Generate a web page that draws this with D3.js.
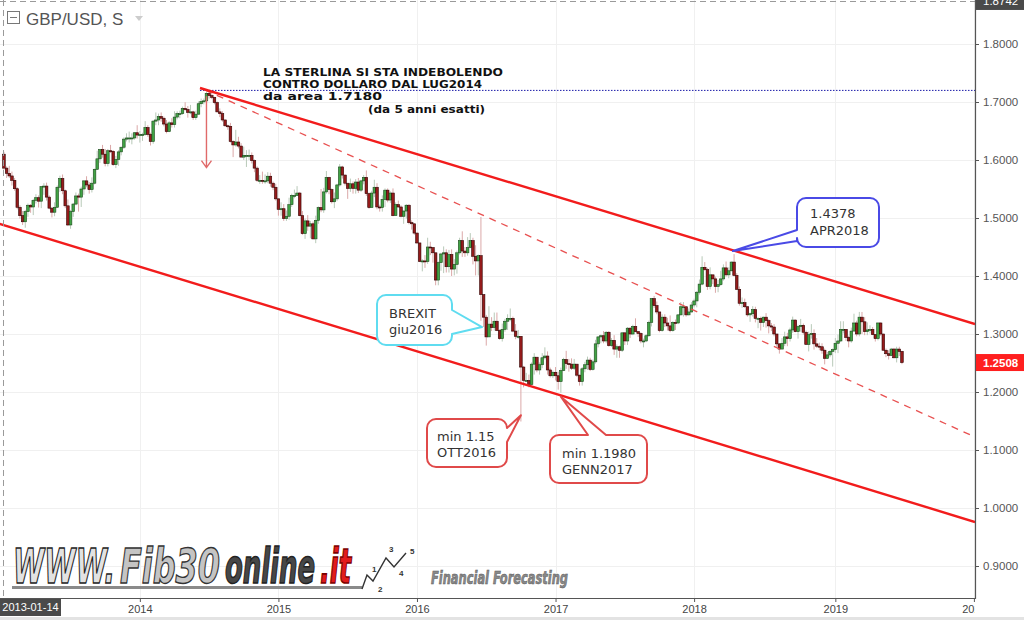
<!DOCTYPE html>
<html><head><meta charset="utf-8">
<script src="https://cdn.jsdelivr.net/npm/d3@7"></script>
<style>html,body{margin:0;padding:0;background:#fff;overflow:hidden}</style>
</head><body><svg id="c" width="1024" height="620"></svg>
<script>
// ---------------- DATA ----------------
const symbolTitle = "GBP/USD, S";
const firstWeek = "2013-01-14";
const lastWeek = "2019-07-01";
const firstOpen = 1.6100;
const closes = [
// 2013
1.5860,1.5770,1.5725,1.5650,1.5505,1.5185,1.5040,1.4935,1.5110,1.5220,
1.5190,1.5305,1.5350,1.5290,1.5540,1.5550,1.5360,1.5170,1.5100,1.5185,
1.5530,1.5680,1.5470,1.5210,1.4880,1.5110,1.5240,1.5380,1.5360,1.5500,
1.5640,1.5570,1.5490,1.5600,1.5840,1.6020,1.6180,1.6100,1.5940,1.6160,
1.6150,1.5920,1.6010,1.6140,1.6220,1.6360,1.6380,1.6380,1.6380,1.6470,
1.6430,
// 2014
1.6440,1.6440,1.6560,1.6440,1.6320,1.6670,1.6690,1.6750,1.6720,1.6620,
1.6490,1.6640,1.6610,1.6740,1.6800,1.6800,1.6890,1.6870,1.6820,1.6830,
1.6730,1.6790,1.6970,1.7010,1.7020,1.7150,1.7110,1.7080,1.6990,1.6830,
1.6800,1.6690,1.6590,1.6580,1.6320,1.6260,1.6310,1.6240,1.6050,1.6080,
1.6080,1.6080,1.5990,1.5860,1.5650,1.5650,1.5640,1.5640,1.5720,1.5600,
1.5530,1.5330,
// 2015
1.5150,1.5160,1.4990,1.5030,1.5230,1.5390,1.5390,1.5430,1.5040,1.4730,
1.4950,1.4860,1.4900,1.4640,1.4960,1.5180,1.5140,1.5450,1.5700,1.5490,
1.5280,1.5330,1.5570,1.5880,1.5740,1.5600,1.5510,1.5590,1.5510,1.5620,
1.5480,1.5640,1.5700,1.5420,1.5180,1.5430,1.5530,1.5190,1.5180,1.5320,
1.5480,1.5310,1.5430,1.5040,1.5230,1.5190,1.5030,1.5120,1.5220,1.4920,
1.4900,1.4740,
// 2016
1.4570,1.4250,1.4260,1.4250,1.4500,1.4490,1.4400,1.3930,1.4230,1.4380,
1.4400,1.4160,1.4370,1.4120,1.4200,1.4400,1.4610,1.4430,1.4400,1.4490,
1.4610,1.4340,1.4260,1.4350,1.3680,1.3290,1.2950,1.3170,1.3110,1.3220,
1.3060,1.2920,1.3080,1.3220,1.3270,1.3270,1.3050,1.2960,1.2960,1.2430,
1.2200,1.2200,1.2130,1.2480,1.2600,1.2380,1.2470,1.2590,1.2620,1.2380,
1.2280,1.2340,
// 2017
1.2280,1.2180,1.2370,1.2560,1.2490,1.2480,1.2410,1.2480,1.2290,1.2180,
1.2400,1.2470,1.2550,1.2390,1.2520,1.2830,1.2950,1.2970,1.2880,1.3030,
1.2800,1.2890,1.2740,1.2780,1.2720,1.3020,1.2880,1.3100,1.3000,1.3130,
1.3040,1.3010,1.2880,1.2880,1.2970,1.3200,1.3610,1.3490,1.3380,1.3060,
1.3290,1.3190,1.3140,1.3060,1.3200,1.3190,1.3330,1.3470,1.3470,1.3330,
1.3380,1.3500,
// 2018
1.3570,1.3720,1.3860,1.4150,1.4110,1.3820,1.4020,1.3950,1.3820,1.3850,
1.3950,1.4140,1.4020,1.4090,1.4240,1.4010,1.3770,1.3530,1.3540,1.3470,
1.3330,1.3350,1.3420,1.3270,1.3270,1.3200,1.3290,1.3230,1.3140,1.3120,
1.3000,1.2830,1.2740,1.2840,1.2950,1.2920,1.3070,1.3240,1.3040,1.3130,
1.3150,1.3030,1.2820,1.2990,1.3010,1.2830,1.2790,1.2780,1.2720,1.2580,
1.2640,1.2700,1.2730,
// 2019
1.2840,1.2880,1.3080,1.3080,1.2940,1.2880,1.3050,1.3190,1.3000,1.3290,
1.3210,1.3040,1.3070,1.3080,1.2990,1.2920,1.3190,1.3000,1.2720,1.2660,
1.2630,1.2740,1.2590,1.2740,1.2700,1.2508
];
const highs = [
// 2013
1.6140,1.5890,1.5900,1.5800,1.5690,1.5530,1.5220,1.5120,1.5140,1.5250,
1.5240,1.5330,1.5410,1.5390,1.5550,1.5600,1.5610,1.5390,1.5190,1.5270,
1.5560,1.5730,1.5750,1.5490,1.5320,1.5140,1.5260,1.5440,1.5420,1.5540,
1.5650,1.5720,1.5620,1.5700,1.5850,1.6160,1.6190,1.6260,1.6190,1.6190,
1.6260,1.6170,1.6070,1.6170,1.6230,1.6390,1.6460,1.6490,1.6460,1.6480,
1.6600,
// 2014
1.6500,1.6470,1.6670,1.6600,1.6470,1.6690,1.6820,1.6800,1.6820,1.6750,
1.6690,1.6670,1.6720,1.6840,1.6840,1.6850,1.6920,1.6996,1.6930,1.6950,
1.6850,1.6850,1.7010,1.7060,1.7060,1.7180,1.7170,1.7192,1.7090,1.7010,
1.6890,1.6840,1.6700,1.6610,1.6640,1.6340,1.6520,1.6400,1.6290,1.6230,
1.6170,1.6180,1.6130,1.6010,1.5890,1.5740,1.5800,1.5750,1.5790,1.5780,
1.5630,1.5590,
// 2015
1.5340,1.5270,1.5240,1.5130,1.5350,1.5420,1.5490,1.5550,1.5450,1.5120,
1.4990,1.5050,1.4950,1.4940,1.5040,1.5200,1.5500,1.5520,1.5810,1.5710,
1.5510,1.5440,1.5590,1.5930,1.5900,1.5750,1.5590,1.5680,1.5630,1.5670,
1.5690,1.5660,1.5740,1.5820,1.5440,1.5470,1.5660,1.5600,1.5230,1.5390,
1.5510,1.5510,1.5460,1.5510,1.5270,1.5300,1.5220,1.5130,1.5240,1.5240,
1.4960,1.4900,
// 2016
1.4750,1.4570,1.4290,1.4360,1.4660,1.4590,1.4500,1.4400,1.4250,1.4400,
1.4510,1.4460,1.4450,1.4460,1.4290,1.4440,1.4660,1.4770,1.4500,1.4670,
1.4740,1.4660,1.4530,1.4370,1.5018,1.3540,1.3330,1.3480,1.3290,1.3370,
1.3370,1.3080,1.3180,1.3260,1.3340,1.3440,1.3300,1.3170,1.3070,1.2960,
1.2450,1.2330,1.2300,1.2510,1.2670,1.2560,1.2510,1.2670,1.2770,1.2700,
1.2420,1.2370,
// 2017
1.2430,1.2350,1.2420,1.2590,1.2710,1.2570,1.2580,1.2570,1.2480,1.2300,
1.2430,1.2520,1.2610,1.2590,1.2560,1.2900,1.2960,1.2990,1.3050,1.3050,
1.3050,1.2930,1.2980,1.2820,1.2800,1.3030,1.3030,1.3120,1.3120,1.3160,
1.3270,1.3050,1.3030,1.2920,1.3000,1.3230,1.3620,1.3657,1.3560,1.3380,
1.3340,1.3340,1.3280,1.3320,1.3220,1.3250,1.3340,1.3550,1.3550,1.3460,
1.3440,1.3550,
// 2018
1.3610,1.3740,1.3940,1.4340,1.4240,1.4140,1.4150,1.4020,1.3990,1.3930,
1.4090,1.4200,1.4250,1.4150,1.4250,1.4377,1.4050,1.3820,1.3630,1.3610,
1.3480,1.3370,1.3480,1.3470,1.3290,1.3300,1.3300,1.3360,1.3260,1.3190,
1.3170,1.3000,1.2840,1.2930,1.3040,1.3020,1.3110,1.3300,1.3250,1.3160,
1.3260,1.3180,1.3060,1.3040,1.3170,1.3080,1.2930,1.2850,1.2840,1.2750,
1.2690,1.2720,1.2750,
// 2019
1.2930,1.2990,1.3220,1.3220,1.3080,1.2970,1.3110,1.3350,1.3230,1.3381,
1.3380,1.3290,1.3200,1.3150,1.3120,1.3000,1.3200,1.3200,1.3000,1.2750,
1.2720,1.2760,1.2760,1.2780,1.2780,1.2710
];
const lows = [
// 2013
1.5830,1.5690,1.5690,1.5560,1.5470,1.5150,1.4990,1.4880,1.4832,1.5020,
1.5090,1.5050,1.5250,1.5180,1.5170,1.5400,1.5300,1.5150,1.5010,1.5030,
1.5180,1.5450,1.5410,1.5170,1.4860,1.4814,1.5020,1.5220,1.5110,1.5190,
1.5400,1.5530,1.5420,1.5440,1.5580,1.5830,1.5950,1.6040,1.5890,1.5890,
1.6120,1.5900,1.5860,1.5900,1.6080,1.6190,1.6320,1.6300,1.6270,1.6350,
1.6370,
// 2014
1.6300,1.6330,1.6420,1.6400,1.6250,1.6280,1.6600,1.6600,1.6660,1.6580,
1.6460,1.6480,1.6560,1.6560,1.6700,1.6720,1.6780,1.6850,1.6730,1.6790,
1.6690,1.6690,1.6780,1.6910,1.6960,1.7010,1.7060,1.7050,1.6960,1.6820,
1.6740,1.6660,1.6570,1.6520,1.6300,1.6050,1.6230,1.6200,1.6050,1.6000,
1.5880,1.6000,1.5940,1.5790,1.5620,1.5590,1.5590,1.5590,1.5600,1.5540,
1.5480,1.5300,
// 2015
1.5040,1.5040,1.4950,1.4950,1.4970,1.5190,1.5340,1.5380,1.5030,1.4710,
1.4640,1.4780,1.4650,1.4630,1.4566,1.4900,1.5100,1.5090,1.5420,1.5410,
1.5250,1.5170,1.5290,1.5540,1.5680,1.5560,1.5330,1.5450,1.5420,1.5420,
1.5430,1.5450,1.5580,1.5380,1.5160,1.5190,1.5360,1.5150,1.5110,1.5110,
1.5190,1.5270,1.5260,1.5030,1.5060,1.5180,1.5010,1.4900,1.4990,1.4890,
1.4800,1.4710,
// 2016
1.4550,1.4240,1.4080,1.4140,1.4210,1.4360,1.4230,1.3840,1.3840,1.4090,
1.4050,1.4060,1.4060,1.4000,1.4010,1.4040,1.4370,1.4330,1.4330,1.4350,
1.4480,1.4200,1.4010,1.4010,1.3229,1.3120,1.2800,1.2960,1.3050,1.3060,
1.3050,1.2900,1.2870,1.3040,1.3070,1.3220,1.3030,1.2910,1.2920,1.1491,
1.2080,1.2190,1.2080,1.2120,1.2300,1.2340,1.2300,1.2410,1.2560,1.2300,
1.2250,1.2240,
// 2017
1.2200,1.2040,1.1986,1.2360,1.2400,1.2350,1.2380,1.2380,1.2260,1.2110,
1.2110,1.2340,1.2380,1.2360,1.2370,1.2490,1.2770,1.2840,1.2840,1.2840,
1.2780,1.2780,1.2640,1.2590,1.2590,1.2690,1.2810,1.2810,1.2930,1.2980,
1.3030,1.2950,1.2840,1.2770,1.2860,1.2950,1.3130,1.3450,1.3340,1.3030,
1.3040,1.3120,1.3060,1.3030,1.3040,1.3070,1.3170,1.3320,1.3300,1.3300,
1.3320,1.3370,
// 2018
1.3460,1.3460,1.3680,1.3840,1.4090,1.3760,1.3770,1.3860,1.3710,1.3720,
1.3830,1.3920,1.3990,1.3960,1.4080,1.3990,1.3760,1.3490,1.3450,1.3450,
1.3300,1.3210,1.3300,1.3200,1.3100,1.3060,1.3120,1.3110,1.3010,1.3050,
1.2960,1.2780,1.2662,1.2770,1.2790,1.2790,1.2870,1.3020,1.3030,1.2920,
1.3040,1.2990,1.2820,1.2700,1.2920,1.2730,1.2760,1.2720,1.2660,1.2477,
1.2570,1.2600,1.2438,
// 2019
1.2670,1.2670,1.2860,1.3010,1.2880,1.2770,1.2850,1.3050,1.2960,1.2960,
1.3000,1.2980,1.2980,1.3010,1.2980,1.2870,1.2890,1.2970,1.2710,1.2600,
1.2560,1.2620,1.2580,1.2510,1.2620,1.2480
];
const priceTicks = [0.9,1.0,1.1,1.2,1.3,1.4,1.5,1.6,1.7,1.8];
const yearTickDates = ["2014-01-06","2015-01-05","2016-01-04","2017-01-02","2018-01-01","2019-01-07","2020-01-06"];
const yearTickLabels = ["2014","2015","2016","2017","2018","2019","2020"];
const crosshairDate = "2013-01-14";
const crosshairPrice = 1.8742;
const lastPrice = 1.2508;
// trend lines: [date, price] anchor pairs
const upperChannel = [["2014-06-13",1.7241],["2020-01-09",1.3172]];
const lowerChannel = [["2013-01-01",1.4902],["2020-01-09",0.9759]];
const midChannel   = [["2014-06-26",1.7207],["2020-01-09",1.1224]];
const levelLine    = [["2014-06-13",1.7200],["2020-01-09",1.7200]];
const dropArrow    = [["2014-06-30",1.7100],["2014-06-30",1.5870]];
const headline = ["LA STERLINA SI STA INDEBOLENDO","CONTRO DOLLARO DAL LUG2014","da area 1.7180","(da 5 anni esatti)"];
const calloutTexts = [["1.4378","APR2018"],["BREXIT","giu2016"],["min 1.15","OTT2016"],["min 1.1980","GENN2017"]];
const calloutAnchors = [["2018-04-13",1.4430],["2016-06-23",1.3120],["2016-10-03",1.1600],["2017-01-16",1.1920]];
const watermarkParts = ["WWW.","Fib30","online",".it"];
const waveLabels = ["1","2","3","4","5"];
const tagline = "Financial Forecasting";

// ---------------- CHART ----------------
const svg = d3.select("#c");
const parse = d3.utcParse("%Y-%m-%d");
const PR = 975, PB = 598;
const x = d3.scaleUtc().domain([parse("2013-01-01"), parse("2020-01-01")]).range([-1, 972]);
const y = d3.scaleLinear().domain([0.9, 1.8]).range([566, 44]);
const dates = d3.utcMonday.range(parse(firstWeek), d3.utcDay.offset(parse(lastWeek), 1));
const candles = dates.map((d, i) => ({d, o: i ? closes[i-1] : firstOpen, c: closes[i], h: highs[i], l: lows[i]}));
const sans = "'Liberation Sans', Arial, sans-serif";
const verd = "'DejaVu Sans', Verdana, sans-serif";

svg.append("rect").attr("width",1024).attr("height",620).attr("fill","#fff");
const defs = svg.append("defs");
defs.append("clipPath").attr("id","plot").append("rect").attr("x",0).attr("y",0).attr("width",PR).attr("height",PB);
defs.append("clipPath").attr("id","xax").append("rect").attr("x",0).attr("y",PB).attr("width",PR).attr("height",22);

// grid
const grid = svg.append("g").attr("clip-path","url(#plot)");
grid.selectAll("line.h").data(priceTicks).join("line")
  .attr("x1",0).attr("x2",PR).attr("y1",d=>Math.round(y(d))+0.5).attr("y2",d=>Math.round(y(d))+0.5)
  .attr("stroke","#f0f0f0");
grid.selectAll("line.v").data(yearTickDates).join("line")
  .attr("y1",0).attr("y2",PB).attr("x1",d=>Math.round(x(parse(d)))+0.5).attr("x2",d=>Math.round(x(parse(d)))+0.5)
  .attr("stroke","#f0f0f0");

// watermark (each part squeezed horizontally into its slot)
const wm = svg.append("g");
const wmFont = "'Liberation Sans Narrow','DejaVu Sans Condensed','Liberation Sans',sans-serif";
wm.append("rect").attr("x",12).attr("y",586).attr("width",350).attr("height",3).attr("fill","#8a8a8a");
[[13,102,"#e2e2e2","#222"],[120,100,"#c4c4c4","#333"],[225,90,"#474747","#222"],[320,31,"#e21b1b","#7a0000"]]
.forEach(([x0,w,fill,stroke],i)=>{
  const t = wm.append("text").attr("x",0).attr("y",0).text(watermarkParts[i])
    .attr("font-family",wmFont).attr("font-size",48).attr("font-weight","bold").attr("font-style","italic")
    .attr("fill",fill).attr("stroke",stroke).attr("stroke-width",1.2);
  const nat = t.node().getComputedTextLength();
  const sx = w / nat;
  t.attr("transform",`translate(${x0},583) scale(${sx},1)`).attr("stroke-width",1.2/Math.sqrt(sx));
});
wm.append("polyline").attr("points","362,589 367,575 373,581 386,558 394,567 406,553")
  .attr("fill","none").attr("stroke","#333").attr("stroke-width",1.4);
[[372,572],[378,592],[389,552],[399,576],[410,554]].forEach(([a,b],i)=>{
  wm.append("text").attr("x",a).attr("y",b).text(waveLabels[i])
    .attr("font-family",sans).attr("font-size",8).attr("font-weight","bold").attr("fill","#333");
});
wm.append("text").attr("x",431).attr("y",584).text(tagline)
  .attr("font-family",wmFont).attr("font-size",17).attr("font-weight","bold").attr("font-style","italic")
  .attr("textLength",137).attr("lengthAdjust","spacingAndGlyphs")
  .attr("fill","#8a8a8a").attr("stroke","#555").attr("stroke-width",0.5);

// candles
const cg = svg.append("g").attr("clip-path","url(#plot)");
cg.selectAll("line.wick").data(candles).join("line")
  .attr("x1",d=>x(d.d)).attr("x2",d=>x(d.d)).attr("y1",d=>y(d.h)).attr("y2",d=>y(d.l))
  .attr("stroke",d=>d.c>=d.o?"#b8c9b8":"#dba8a8").attr("stroke-width",1);
cg.selectAll("rect.body").data(candles).join("rect")
  .attr("x",d=>x(d.d)-1.3).attr("width",2.6)
  .attr("y",d=>y(Math.max(d.o,d.c))).attr("height",d=>Math.max(1,Math.abs(y(d.o)-y(d.c))))
  .attr("fill",d=>d.c>=d.o?"#41a345":"#961b1b")
  .attr("stroke",d=>d.c>=d.o?"#1c4a1c":"#300000").attr("stroke-width",0.6);

// trend lines
const lg = svg.append("g").attr("clip-path","url(#plot)");
const pt = p => [x(parse(p[0])), y(p[1])];
const line = d3.line().x(d=>pt(d)[0]).y(d=>pt(d)[1]);
lg.append("path").attr("d",line(levelLine)).attr("stroke","#1a1aa8").attr("stroke-width",1).attr("stroke-dasharray","1.5,1.5").attr("fill","none");
lg.append("path").attr("d",line(midChannel)).attr("stroke","#e85050").attr("stroke-width",1.3).attr("stroke-dasharray","7,6").attr("fill","none");
lg.append("path").attr("d",line(upperChannel)).attr("stroke","#f21c1c").attr("stroke-width",2.4).attr("fill","none");
lg.append("path").attr("d",line(lowerChannel)).attr("stroke","#f21c1c").attr("stroke-width",2.4).attr("fill","none");
// arrow
const a0 = pt(dropArrow[0]), a1 = pt(dropArrow[1]);
lg.append("path").attr("d",`M${a0[0]},${a0[1]}L${a1[0]},${a1[1]}M${a1[0]-5},${a1[1]-7}L${a1[0]},${a1[1]}L${a1[0]+5},${a1[1]-7}`)
  .attr("stroke","#e06a6a").attr("stroke-width",1.4).attr("fill","none");

// headline
const hl = svg.append("g").attr("font-family",verd).attr("font-weight","bold").attr("font-size",10).attr("fill","#111");
[[263,76,240],[263,88,219],[263,100,119],[368,113,117]].forEach(([a,b,len],i)=>{
  hl.append("text").attr("x",a).attr("y",b).attr("textLength",len).attr("lengthAdjust","spacingAndGlyphs").text(headline[i]);
});

// callouts
function calloutPath(b, side, s0, s1, p, r){
  const {x0,y0,x1,y1} = b;
  let s = `M${x0+r},${y0}`;
  if (side==="top") s += `L${s0},${y0}L${p[0]},${p[1]}L${s1},${y0}`;
  s += `L${x1-r},${y0}A${r},${r} 0 0 1 ${x1},${y0+r}`;
  if (side==="right") s += `L${x1},${s0}L${p[0]},${p[1]}L${x1},${s1}`;
  s += `L${x1},${y1-r}A${r},${r} 0 0 1 ${x1-r},${y1}`;
  s += `L${x0+r},${y1}A${r},${r} 0 0 1 ${x0},${y1-r}`;
  if (side==="left") s += `L${x0},${s1}L${p[0]},${p[1]}L${x0},${s0}`;
  s += `L${x0},${y0+r}A${r},${r} 0 0 1 ${x0+r},${y0}Z`;
  return s;
}
const calloutLayout = [
  {b:{x0:797,y0:198,x1:879,y1:247}, side:"left",  s0:230, s1:241, col:"#4a4ae6", tx:810, ty:[218,235]},
  {b:{x0:377,y0:295,x1:452,y1:345}, side:"right", s0:310, s1:334, col:"#5fdcf0", tx:389, ty:[318,334]},
  {b:{x0:427,y0:419,x1:507,y1:467}, side:"right", s0:428, s1:442, col:"#e04a4a", tx:437, ty:[441,457]},
  {b:{x0:550,y0:435,x1:647,y1:483}, side:"top",   s0:588, s1:606, col:"#e04a4a", tx:562, ty:[458,474]}
];
const cog = svg.append("g");
calloutLayout.forEach((L,i)=>{
  const p = pt(calloutAnchors[i]);
  cog.append("path").attr("d",calloutPath(L.b,L.side,L.s0,L.s1,p,9))
    .attr("fill","#fff").attr("stroke",L.col).attr("stroke-width",2).attr("stroke-linejoin","round");
  calloutTexts[i].forEach((t,j)=>{
    cog.append("text").attr("x",L.tx).attr("y",L.ty[j]).text(t)
      .attr("font-family",verd).attr("font-size",13).attr("fill","#333");
  });
});

// crosshair
svg.append("line").attr("x1",0).attr("x2",PR).attr("y1",1.5).attr("y2",1.5)
  .attr("stroke","#9a9a9a").attr("stroke-dasharray","6,4");
svg.append("line").attr("x1",3.5).attr("x2",3.5).attr("y1",0).attr("y2",PB)
  .attr("stroke","#9a9a9a").attr("stroke-dasharray","6,4");

// right axis
svg.append("rect").attr("x",PR).attr("y",0).attr("width",1024-PR).attr("height",PB).attr("fill","#fff");
const yAx = svg.append("g").attr("transform",`translate(${PR},0)`)
  .call(d3.axisRight(y).tickValues(priceTicks).tickFormat(d3.format(".4f")).tickSize(4).tickPadding(4));
yAx.select(".domain").remove();
yAx.selectAll("line").attr("stroke","#555");
yAx.selectAll("text").attr("font-family",sans).attr("font-size",11.5).attr("fill","#555");
svg.append("line").attr("x1",PR+0.5).attr("x2",PR+0.5).attr("y1",0).attr("y2",PB+1).attr("stroke","#555").attr("stroke-width",1.2);

// bottom axis
const xWrap = svg.append("g").attr("clip-path","url(#xax)");
const xAx = xWrap.append("g").attr("transform",`translate(0,${PB})`)
  .call(d3.axisBottom(x).tickValues(yearTickDates.map(parse)).tickFormat((d,i)=>yearTickLabels[i]).tickSize(4).tickPadding(3));
xAx.select(".domain").remove();
xAx.selectAll("line").attr("stroke","#555");
xAx.selectAll("text").attr("font-family",sans).attr("font-size",11).attr("fill","#444");
svg.append("line").attr("x1",0).attr("x2",PR+1).attr("y1",PB+0.5).attr("y2",PB+0.5).attr("stroke","#555").attr("stroke-width",1.2);
svg.append("rect").attr("x",0).attr("y",617).attr("width",1024).attr("height",3).attr("fill","#e3e3e3");

// crosshair labels
svg.append("rect").attr("x",0).attr("y",PB+1).attr("width",61).attr("height",17).attr("fill","#4a4a4a");
svg.append("text").attr("x",30.5).attr("y",PB+13).attr("text-anchor","middle").text(crosshairDate)
  .attr("font-family",sans).attr("font-size",11).attr("fill","#fff");
svg.append("rect").attr("x",PR+1).attr("y",y(crosshairPrice)-8).attr("width",48).attr("height",17).attr("fill","#4a4a4a");
svg.append("text").attr("x",PR+8).attr("y",y(crosshairPrice)+4).text(crosshairPrice.toFixed(4))
  .attr("font-family",sans).attr("font-size",11.5).attr("fill","#fff");
// last price label
svg.append("rect").attr("x",PR+1).attr("y",y(lastPrice)-8.5).attr("width",48).attr("height",17).attr("fill","#ff1f1f");
svg.append("text").attr("x",PR+8).attr("y",y(lastPrice)+4.5).text(lastPrice.toFixed(4))
  .attr("font-family",sans).attr("font-size",11.5).attr("font-weight","bold").attr("fill","#fff");

// title
svg.append("rect").attr("x",7.5).attr("y",11.5).attr("width",12).attr("height",12).attr("fill","none").attr("stroke","#777").attr("stroke-width",1);
svg.append("line").attr("x1",10).attr("x2",17).attr("y1",17.5).attr("y2",17.5).attr("stroke","#777");
svg.append("text").attr("x",26).attr("y",25).text(symbolTitle).attr("font-family",sans).attr("font-size",17).attr("fill","#555");
svg.append("path").attr("d","M135,16L143,16L139,21Z").attr("fill","#ccc");
</script></body></html>
